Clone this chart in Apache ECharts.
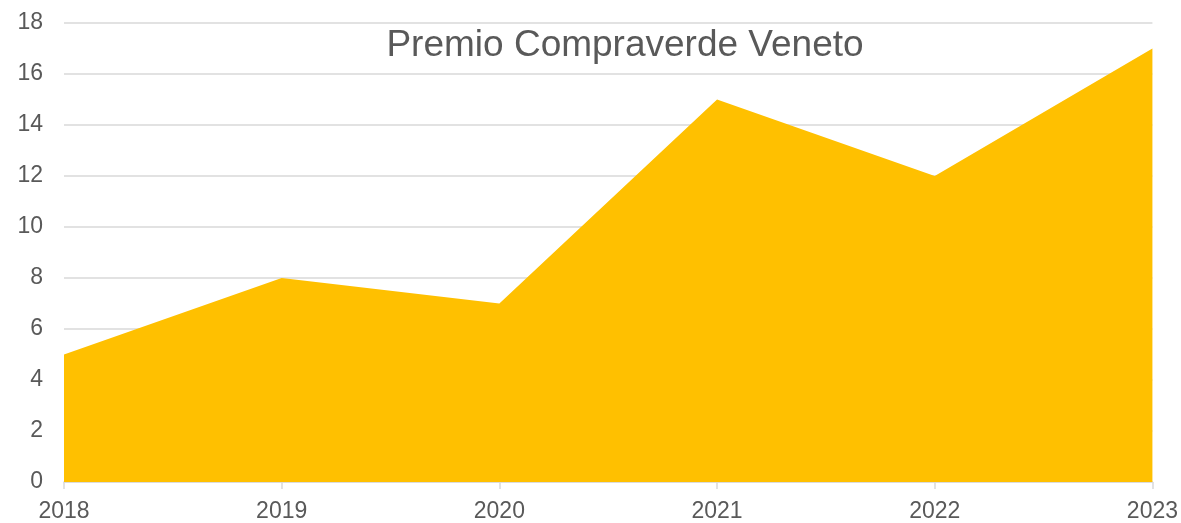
<!DOCTYPE html>
<html><head><meta charset="utf-8">
<script src="https://cdn.jsdelivr.net/npm/echarts@6/dist/echarts.min.js"></script>
<style>html,body{margin:0;padding:0;background:#fff}#c{width:1181px;height:523px}</style>
</head><body><div id="c"></div>
<script>
const categories = ['2018','2019','2020','2021','2022','2023'];
const values = [5, 8, 7, 15, 12, 17];
const titleText = 'Premio Compraverde Veneto';
const chart = echarts.init(document.getElementById('c'));
chart.setOption({
  animation: false,
  title: {
    text: titleText, left: 620, top: 22, textAlign: 'center',
    textStyle: {fontFamily: 'Liberation Sans', fontSize: 37, fontWeight: 'normal', color: '#595959'}
  },
  grid: {left: 64, right: 27, top: 23, bottom: 40, containLabel: false},
  xAxis: {
    type: 'category', data: categories, boundaryGap: false,
    axisLine: {lineStyle: {color: '#d9d9d9', width: 1.5}},
    axisTick: {show: true, length: 7, lineStyle: {color: '#d9d9d9', width: 1.5}},
    axisLabel: {color: '#595959', fontFamily: 'Liberation Sans', fontSize: 23, margin: 18}
  },
  yAxis: {
    type: 'value', min: 0, max: 18, interval: 2,
    axisLine: {show: false}, axisTick: {show: false},
    splitLine: {lineStyle: {color: '#d9d9d9', width: 1.5}},
    axisLabel: {color: '#595959', fontFamily: 'Liberation Sans', fontSize: 23, margin: 21}
  },
  series: [{
    type: 'line', data: values, symbol: 'none',
    lineStyle: {width: 0}, areaStyle: {color: '#FFC000', opacity: 1}, z: 1
  }]
});
</script></body></html>
